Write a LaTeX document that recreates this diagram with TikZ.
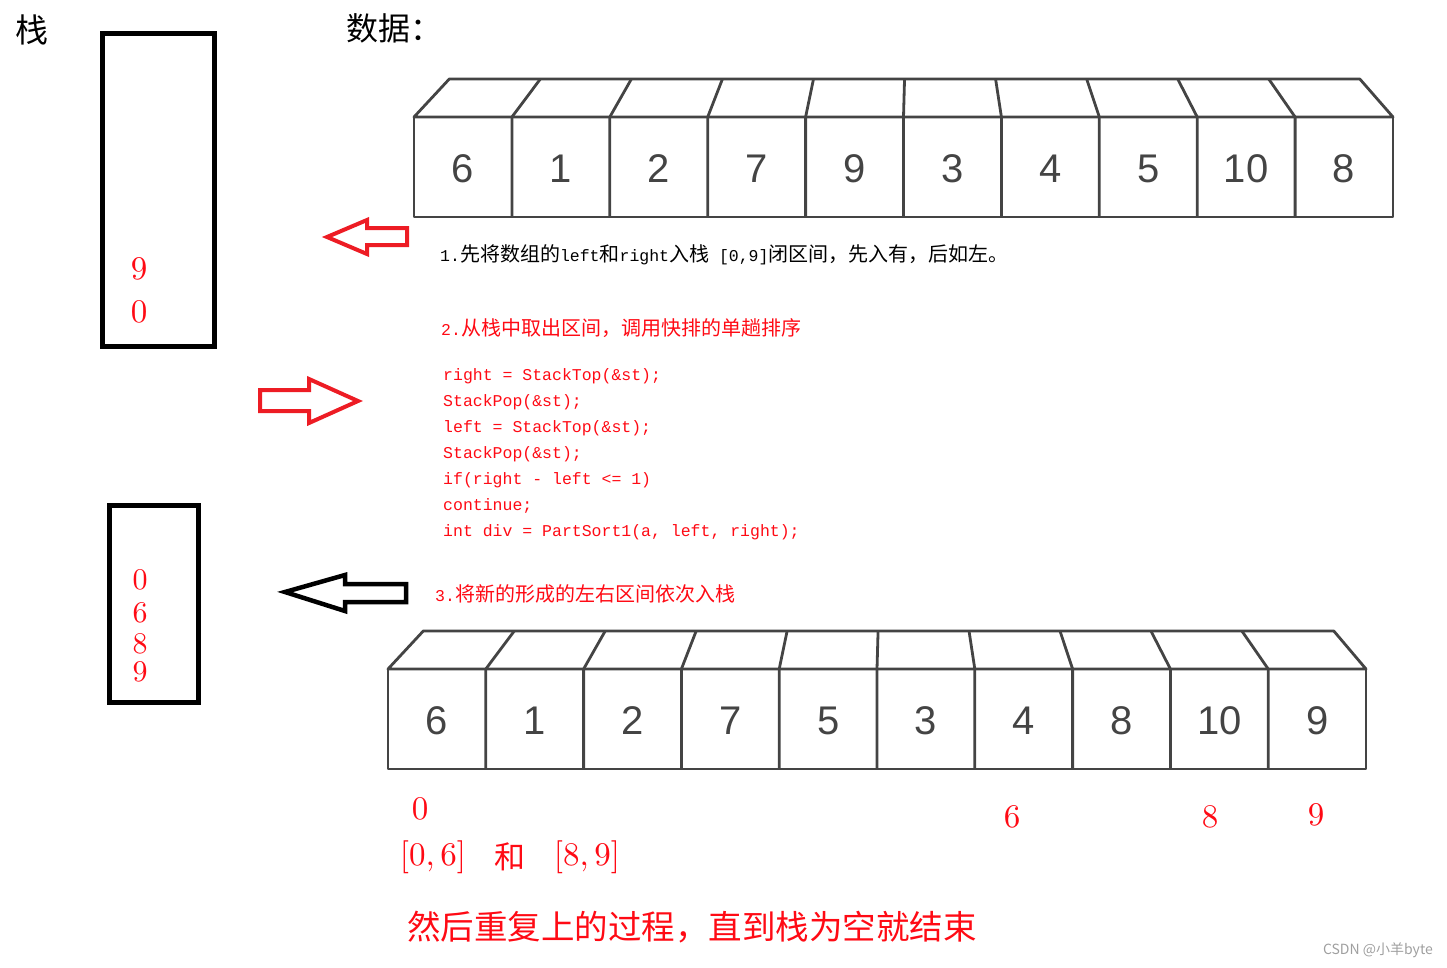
\documentclass[tikz,border=0pt]{standalone}
\usepackage{fontspec}
\newfontfamily\cjk{Noto Sans CJK SC}
\newfontfamily\mono{Liberation Mono}
\newfontfamily\hand{Liberation Sans}
\newfontfamily\dig{lmroman10-regular}[Extension=.otf]
\definecolor{arrred}{HTML}{ED1C24}
\definecolor{txtred}{HTML}{FF0A14}
\definecolor{boxgray}{HTML}{444444}
\tikzset{
  stackbox/.style={draw=black, line width=5pt},
  redarrow/.style={draw=arrred, line width=4pt},
  blackarrow/.style={draw=black, line width=4.5pt},
  cellline/.style={draw=boxgray, line width=2.8pt, line join=round},
  cellnum/.style={font=\hand\fontsize{40}{40}\selectfont, text=boxgray},
  rednum/.style={text=txtred, inner sep=0pt, font=\dig\fontsize{33}{33}\selectfont},
  note/.style={anchor=west, inner sep=0pt, font=\cjk\fontsize{20}{20}\selectfont},
}
\newcommand\lat[1]{{\mono\fontsize{16.5}{20}\selectfont #1}}
\begin{document}
\begin{tikzpicture}[x=1pt,y=-1pt]
  \useasboundingbox (0,0) rectangle (1447,967);

  % titles
  \node[font=\cjk\fontsize{33}{33}\selectfont] (zhan) at (32,30) {栈};
  \node[anchor=west, inner sep=0pt, font=\cjk\fontsize{32}{32}\selectfont] (shuju) at (346,28) {数据：};

  % stacks
  \draw[stackbox] (102.5,33.5) rectangle (214.5,346.5);
  \node[rednum] (s1a) at (139,269) {9};
  \node[rednum] (s1b) at (139,312) {0};
  \draw[stackbox] (109.5,505.5) rectangle (198.5,702.5);
  \foreach \v/\y [count=\i] in {0/580,6/613,8/644,9/672}
    \node[rednum, font=\dig\fontsize{30}{30}\selectfont] (s2\i) at (140,\y) {\v};

  % array before
  \begin{scope}[shift={(414,117)}]
    \draw[cellline] (0,0) -- (35.3,-38) -- (945.8,-38) -- (979,0) -- cycle;
    \draw[cellline] (0,0) rectangle (979,100);
    \foreach \i in {1,...,9}
      \draw[cellline] (\i*97.9,100) -- (\i*97.9,0) -- ({491+0.93*(\i*97.9-490)},-38);
    \foreach \v [count=\i from 0] in {6,1,2,7,9,3,4,5,10,8}
      \node[cellnum] (up\i) at (\i*97.9+49,52) {\v};
  \end{scope}

  % array after
  \begin{scope}[shift={(388,669)}]
    \draw[cellline] (0,0) -- (35.3,-38) -- (945.8,-38) -- (978,0) -- cycle;
    \draw[cellline] (0,0) rectangle (978,100);
    \foreach \i in {1,...,9}
      \draw[cellline] (\i*97.8,100) -- (\i*97.8,0) -- ({491+0.93*(\i*97.8-490)},-38);
    \foreach \v [count=\i from 0] in {6,1,2,7,5,3,4,8,10,9}
      \node[cellnum] (dn\i) at (\i*97.8+49,52) {\v};
  \end{scope}

  % block arrows
  \draw[redarrow] (407,228) -- (367,228) -- (367,220) -- (327,237) -- (367,254) -- (367,245) -- (407,245) -- cycle;
  \draw[redarrow] (260,390) -- (309,390) -- (309,379) -- (358,401) -- (309,423) -- (309,411) -- (260,411) -- cycle;
  \draw[blackarrow] (406,584) -- (345,584) -- (345,575) -- (285,592) -- (345,611) -- (345,602) -- (406,602) -- cycle;

  % steps
  \node[note] (step1) at (440,255) {\lat{1.}先将数组的\lat{left}和\lat{right}入栈\lat{~[0,9]}闭区间，先入有，后如左。};
  \node[note, text=txtred] (step2) at (441,328) {\lat{2.}从栈中取出区间，调用快排的单趟排序};
  \node[anchor=west, inner sep=0pt, align=left, text=txtred, font=\mono\fontsize{16.5}{26}\selectfont] (code) at (443,454)
    {right = StackTop(\&st);\\StackPop(\&st);\\left = StackTop(\&st);\\StackPop(\&st);\\if(right - left <= 1)\\continue;\\int div = PartSort1(a, left, right);};
  \node[note, text=txtred] (step3) at (435,594) {\lat{3.}将新的形成的左右区间依次入栈};

  % indices under the array
  \node[rednum] (i0) at (420,809) {0};
  \node[rednum] (i6) at (1012,817) {6};
  \node[rednum] (i8) at (1210,817) {8};
  \node[rednum] (i9) at (1316,815) {9};

  % result
  \node[rednum] (r1) at (433,857) {[0,\,6]};
  \node[rednum, font=\cjk\fontsize{31}{31}\selectfont] (r2) at (510,857) {和};
  \node[rednum] (r3) at (587,857) {[8,\,9]};
  \node[text=txtred, font=\cjk\fontsize{33.5}{33.5}\selectfont] (last) at (692,927) {然后重复上的过程，直到栈为空就结束};

  \node[anchor=east, inner sep=0pt, text=gray!75, font=\cjk\fontsize{14}{14}\selectfont] (mark) at (1433,950) {CSDN @小羊byte};
\end{tikzpicture}
\end{document}
